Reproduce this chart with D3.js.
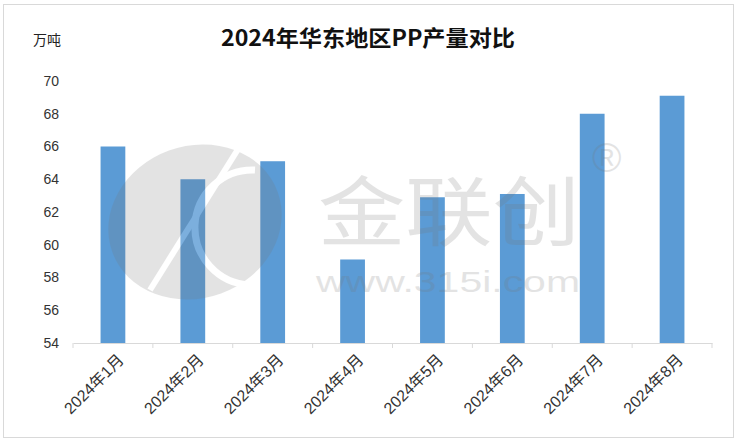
<!DOCTYPE html>
<html><head><meta charset="utf-8">
<script src="https://cdn.jsdelivr.net/npm/d3@7/dist/d3.min.js"></script>
<style>
body{margin:0;background:#fff;}
svg{display:block;}
</style></head>
<body><svg id="c" width="738" height="443"></svg>
<script>
const categories = ["2024年1月","2024年2月","2024年3月","2024年4月","2024年5月","2024年6月","2024年7月","2024年8月"];
const values = [66.0, 64.0, 65.1, 59.1, 62.9, 63.1, 68.0, 69.1];
const yTicks = [54,56,58,60,62,64,66,68,70];
const title = "2024年华东地区PP产量对比";
const unit = "万吨";

const svg = d3.select("#c");
const W = 738, H = 443;
const m = {left:73, right:26, top:81, bottom:100};
const x = d3.scaleBand().domain(categories).range([m.left, W - m.right]).paddingInner(0.69).paddingOuter(0.345);
const xb = d3.scaleBand().domain(categories).range([m.left, W - m.right]);
const y = d3.scaleLinear().domain([54,70]).range([H - m.bottom, m.top]);

// frame
svg.append("rect").attr("x",3.5).attr("y",4.5).attr("width",730).attr("height",433)
  .attr("fill","#fff").attr("stroke","#d9d9d9");

// title
svg.append("text").attr("x",368).attr("y",46).attr("text-anchor","middle")
  .attr("font-family","'Noto Sans CJK SC', sans-serif").attr("font-weight","bold")
  .attr("font-size",22).attr("fill","#111").attr("textLength",294).attr("lengthAdjust","spacingAndGlyphs")
  .text(title);
svg.append("text").attr("x",33).attr("y",45)
  .attr("font-family","'Noto Sans CJK SC', sans-serif").attr("font-size",14).attr("fill","#222")
  .text(unit);

// bars
svg.append("g").selectAll("rect").data(values).join("rect")
  .attr("x",(d,i)=>x(categories[i])).attr("width",x.bandwidth())
  .attr("y",d=>y(d)).attr("height",d=>y(54)-y(d))
  .attr("fill","#5B9BD5");

// y axis labels
const ya = svg.append("g").attr("transform",`translate(${m.left},0)`)
  .call(d3.axisLeft(y).tickValues(yTicks).tickSize(0).tickPadding(14).tickFormat(d3.format("d")));
ya.select(".domain").remove();
ya.selectAll("text").attr("font-family","'Liberation Sans', Arial, sans-serif").attr("font-size",14).attr("fill","#333");

// x axis
const xa = svg.append("g").attr("transform",`translate(0,${y(54)})`)
  .call(d3.axisBottom(xb).tickSize(0).tickFormat(""));
xa.select(".domain").attr("stroke","#d9d9d9");
svg.append("g").selectAll("line").data(d3.range(categories.length+1)).join("line")
  .attr("x1",i=>m.left + i*xb.step()).attr("x2",i=>m.left + i*xb.step())
  .attr("y1",y(54)).attr("y2",y(54)+5).attr("stroke","#d9d9d9");
svg.append("g").selectAll("text").data(categories).join("text")
  .attr("transform",d=>`translate(${xb(d)+xb.bandwidth()/2+8},${y(54)+14}) rotate(-45)`)
  .attr("text-anchor","end").attr("dy","0.35em")
  .attr("font-family","'Liberation Sans', 'Noto Sans CJK SC', sans-serif").attr("font-size",16).attr("fill","#333")
  .text(d=>d);

// watermark
const wm = svg.append("g").attr("opacity",0.2).attr("pointer-events","none");
wm.append("ellipse").attr("cx",195).attr("cy",222).attr("rx",88).attr("ry",76)
  .attr("transform","rotate(-20,195,222)").attr("fill","#777");
wm.append("path").attr("d","M150,290 L250,130").attr("stroke","#fff").attr("stroke-width",6).attr("fill","none");
wm.append("path").attr("d","M255,170 A50,50 0 1 0 250,285").attr("stroke","#fff").attr("stroke-width",7).attr("fill","none");
wm.append("text").attr("x",318).attr("y",240).attr("font-family","'Noto Sans CJK SC', sans-serif")
  .attr("font-size",76).attr("fill","#777").attr("textLength",262).attr("lengthAdjust","spacingAndGlyphs").text("金联创");
wm.append("text").attr("x",592).attr("y",172).attr("font-family","'Liberation Sans', sans-serif")
  .attr("font-size",40).attr("fill","#777").text("®");
wm.append("text").attr("x",316).attr("y",292).attr("font-family","'Liberation Sans', sans-serif")
  .attr("font-size",30).attr("fill","#777").attr("textLength",264).attr("lengthAdjust","spacingAndGlyphs").text("www.315i.com");
</script>
</body></html>
